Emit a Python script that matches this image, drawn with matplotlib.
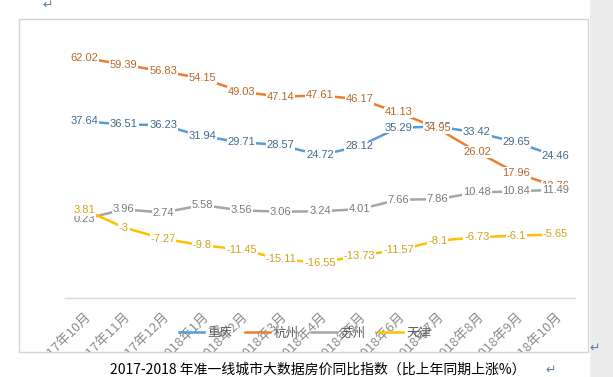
import matplotlib
matplotlib.use("Agg")
import matplotlib.pyplot as plt
from matplotlib.patches import Rectangle
from matplotlib.transforms import Bbox, TransformedBbox
from matplotlib.lines import Line2D

plt.rcParams['font.family'] = ['Noto Sans CJK SC', 'DejaVu Sans']

months = ["2017年10月", "2017年11月", "2017年12月", "2018年1月", "2018年2月", "2018年3月",
          "2018年4月", "2018年5月", "2018年6月", "2018年7月", "2018年8月", "2018年9月", "2018年10月"]
chongqing = [37.64, 36.51, 36.23, 31.94, 29.71, 28.57, 24.72, 28.12, 35.29, 35.63, 33.42, 29.65, 24.46]
hangzhou = [62.02, 59.39, 56.83, 54.15, 49.03, 47.14, 47.61, 46.17, 41.13, 34.95, 26.02, 17.96, 12.76]
suzhou = [0.23, 3.96, 2.74, 5.58, 3.56, 3.06, 3.24, 4.01, 7.66, 7.86, 10.48, 10.84, 11.49]
tianjin = [3.81, -3, -7.27, -9.8, -11.45, -15.11, -16.55, -13.73, -11.57, -8.1, -6.73, -6.1, -5.65]
series_names = ["重庆", "杭州", "苏州", "天津"]
caption = "2017-2018 年准一线城市大数据房价同比指数（比上年同期上涨%）"

line_colors = ["#5B9BD5", "#ED7D31", "#A5A5A5", "#FFC000"]
label_colors = ["#41698F", "#B8692A", "#7A7A7A", "#D2A21C"]

W, H = 613, 377
fig = plt.figure(figsize=(W / 100, H / 100), dpi=100)

# page background pieces
fig.patches.append(Rectangle((590 / W, 0), 23 / W, 1, transform=fig.transFigure,
                             facecolor="#ECECEC", edgecolor="none", zorder=-2))
fig.patches.append(Rectangle((19 / W, (H - 352) / H), (588 - 19) / W, (352 - 19) / H,
                             transform=fig.transFigure, facecolor="white",
                             edgecolor="#D4D4D4", linewidth=1.0, zorder=-1))

ax = fig.add_axes([65 / W, (H - 298) / H, 510 / W, (298 - 37) / H])
ax.set_zorder(1)
ax.set_facecolor("none")
x = list(range(len(months)))
all_series = [chongqing, hangzhou, suzhou, tianjin]
for s, lc, tc, name in zip(all_series, line_colors, label_colors, series_names):
    ax.plot(x, s, color=lc, linewidth=1.8, label=name, zorder=2, solid_capstyle="butt")
for s, lc, tc in zip(all_series, line_colors, label_colors):
    for xi, v in zip(x, s):
        ax.text(xi, v, f"{v:g}", ha="center", va="center", fontsize=8,
                family=["Liberation Sans"], color=tc, zorder=3,
                bbox=dict(facecolor="white", edgecolor="none", pad=0.6))

ax.set_xlim(-0.5, len(months) - 0.5)
ax.set_ylim(-30, 70)
ax.set_yticks([])
for sp in ["top", "left", "right"]:
    ax.spines[sp].set_visible(False)
ax.spines["bottom"].set_color("#D9D9D9")
ax.spines["bottom"].set_linewidth(1.0)
ax.set_xticks(x)
ax.set_xticklabels(months, rotation=45, ha="right", va="top", rotation_mode="anchor",
                   fontsize=9.5, color="#8C8C8C")
ax.tick_params(axis="x", length=0, pad=9)
clip = TransformedBbox(Bbox([[0, (H - 352) / H], [1, 1]]), fig.transFigure)
for t in ax.get_xticklabels():
    t.set_clip_box(clip)
    t.set_clip_on(True)

handles = [Line2D([], [], color=c, linewidth=1.8) for c in line_colors]
leg = fig.legend(handles, series_names, loc="center", bbox_to_anchor=(305 / W, (H - 333) / H),
                 ncol=4, frameon=False, fontsize=9, handlelength=2.0, handletextpad=0.3,
                 columnspacing=1.0, labelcolor="#595959")
leg.set_zorder(5)

fig.text(110 / W, (H - 370) / H, caption, fontsize=10, color="black", ha="left", va="center")
fig.text(545 / W, (H - 370) / H, "↵", fontsize=9, color="#5A7FA8", ha="left", va="center",
         family=["DejaVu Sans"])
fig.text(48 / W, (H - 5) / H, "↵", fontsize=9, color="#5A7FA8", ha="center", va="center",
         family=["DejaVu Sans"])
fig.text(595 / W, (H - 348) / H, "↵", fontsize=9, color="#5A7FA8", ha="center", va="center",
         family=["DejaVu Sans"])

fig.savefig("out.png", dpi=100)
